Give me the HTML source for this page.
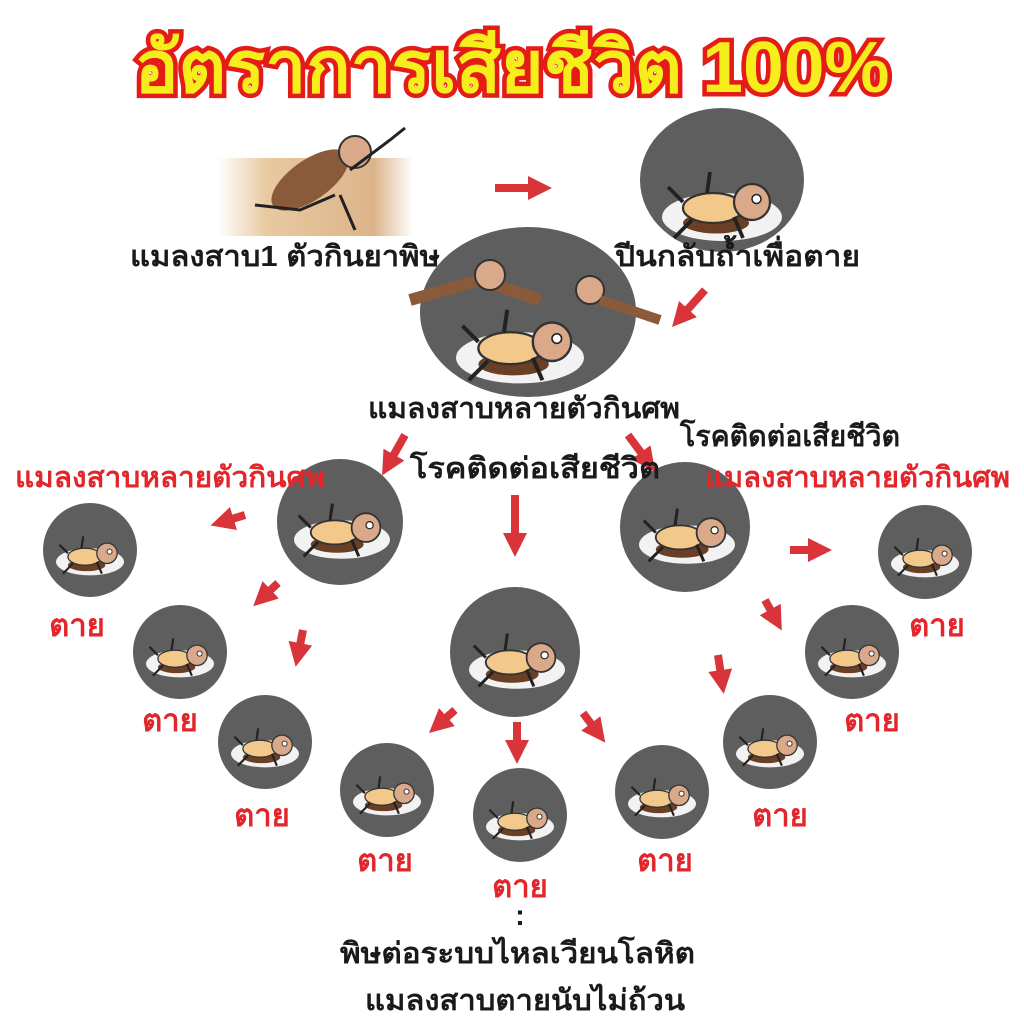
<!DOCTYPE html>
<html><head><meta charset="utf-8"><style>
html,body{margin:0;padding:0;background:#fff;}
body{width:1024px;height:1024px;overflow:hidden;position:relative;font-family:"Liberation Sans","DejaVu Sans",sans-serif;}
svg{position:absolute;left:0;top:0;}
text{font-family:"Liberation Sans","DejaVu Sans",sans-serif;font-weight:bold;}
</style></head><body>
<svg width="1024" height="1024" viewBox="0 0 1024 1024">
<defs>
<linearGradient id="wood" x1="0" x2="1"><stop offset="0" stop-color="#fff"/><stop offset="0.25" stop-color="#e8c9a0"/><stop offset="0.8" stop-color="#dcb48a"/><stop offset="1" stop-color="#fff"/></linearGradient>
<marker id="ah" viewBox="0 0 10 10" refX="5" refY="5" markerWidth="3" markerHeight="3" orient="auto"><path d="M0,0 L10,5 L0,10 z" fill="#d8343a"/></marker>
<g id="roach">
<ellipse cx="0" cy="8" rx="40" ry="16" fill="#f2f2f2"/>
<ellipse cx="-4" cy="12" rx="22" ry="7" fill="#6b3f26"/>
<ellipse cx="-6" cy="2" rx="20" ry="10" fill="#f2c98a" stroke="#333" stroke-width="1.5"/>
<circle cx="20" cy="-2" r="12" fill="#d9a98a" stroke="#333" stroke-width="1.5"/>
<circle cx="23" cy="-4" r="3" fill="#fff" stroke="#222"/>
<path d="M-26,-2 L-36,-12 M-10,-8 L-8,-22 M8,8 L14,22 M-20,10 L-32,22" stroke="#222" stroke-width="2.5"/>
</g>
</defs>
<text x="512" y="92" text-anchor="middle" font-size="72" fill="#f5ee1b" stroke="#e41b17" stroke-width="9" paint-order="stroke" textLength="755" lengthAdjust="spacingAndGlyphs">อัตราการเสียชีวิต 100%</text>
<rect x="218" y="158" width="195" height="78" fill="url(#wood)"/>
<ellipse cx="310" cy="180" rx="45" ry="20" fill="#8b5a3a" transform="rotate(-35 310 180)"/>
<circle cx="355" cy="152" r="16" fill="#d9a98a" stroke="#333" stroke-width="2"/>
<path d="M335,195 L300,210 L255,205 M350,170 L390,140 L405,128 M340,195 L355,230" stroke="#222" stroke-width="3" fill="none"/>
<ellipse cx="722" cy="180" rx="82" ry="72" fill="#5e5e5e"/>
<use href="#roach" transform="translate(722,205) scale(1.5)"/>
<ellipse cx="528" cy="312" rx="108" ry="85" fill="#5e5e5e"/>
<use href="#roach" transform="translate(520,345) scale(1.6)"/>
<path d="M410,300 L480,280 L540,300" stroke="#8b5a3a" stroke-width="12" fill="none"/>
<circle cx="490" cy="275" r="15" fill="#d9a98a" stroke="#333" stroke-width="2"/>
<circle cx="590" cy="290" r="14" fill="#d9a98a" stroke="#333" stroke-width="2"/>
<path d="M600,300 L660,320" stroke="#8b5a3a" stroke-width="10"/>
<g fill="#5e5e5e">
<circle cx="340" cy="522" r="63"/><circle cx="685" cy="527" r="65"/><circle cx="515" cy="652" r="65"/>
<circle cx="90" cy="550" r="47"/><circle cx="180" cy="652" r="47"/><circle cx="265" cy="742" r="47"/>
<circle cx="387" cy="790" r="47"/><circle cx="520" cy="815" r="47"/><circle cx="662" cy="792" r="47"/>
<circle cx="770" cy="742" r="47"/><circle cx="852" cy="652" r="47"/><circle cx="925" cy="552" r="47"/>
</g>
<use href="#roach" transform="translate(342,530) scale(1.2)"/>
<use href="#roach" transform="translate(687,535) scale(1.2)"/>
<use href="#roach" transform="translate(517,660) scale(1.2)"/>
<use href="#roach" transform="translate(90,555) scale(0.85)"/>
<use href="#roach" transform="translate(180,657) scale(0.85)"/>
<use href="#roach" transform="translate(265,747) scale(0.85)"/>
<use href="#roach" transform="translate(387,795) scale(0.85)"/>
<use href="#roach" transform="translate(520,820) scale(0.85)"/>
<use href="#roach" transform="translate(662,797) scale(0.85)"/>
<use href="#roach" transform="translate(770,747) scale(0.85)"/>
<use href="#roach" transform="translate(852,657) scale(0.85)"/>
<use href="#roach" transform="translate(925,557) scale(0.85)"/>
<g stroke="#d8343a" stroke-width="8" fill="none" marker-end="url(#ah)">
<line x1="495" y1="188" x2="540" y2="188"/>
<line x1="705" y1="290" x2="680" y2="318"/>
<line x1="405" y1="435" x2="388" y2="465"/>
<line x1="628" y1="435" x2="648" y2="462"/>
<line x1="515" y1="495" x2="515" y2="545"/>
<line x1="245" y1="515" x2="222" y2="522"/>
<line x1="278" y1="583" x2="262" y2="598"/>
<line x1="303" y1="630" x2="298" y2="655"/>
<line x1="455" y1="710" x2="438" y2="725"/>
<line x1="517" y1="722" x2="517" y2="752"/>
<line x1="583" y1="713" x2="598" y2="733"/>
<line x1="790" y1="550" x2="820" y2="550"/>
<line x1="765" y1="600" x2="776" y2="620"/>
<line x1="718" y1="655" x2="722" y2="682"/>
</g>
<g fill="#1a1a1a" font-size="29" lengthAdjust="spacingAndGlyphs">
<text x="130" y="266" textLength="310" lengthAdjust="spacingAndGlyphs">แมลงสาบ1 ตัวกินยาพิษ</text>
<text x="615" y="266" textLength="245" lengthAdjust="spacingAndGlyphs">ปีนกลับถ้ำเพื่อตาย</text>
<text x="368" y="418" textLength="312" lengthAdjust="spacingAndGlyphs">แมลงสาบหลายตัวกินศพ</text>
<text x="680" y="446" textLength="220" lengthAdjust="spacingAndGlyphs">โรคติดต่อเสียชีวิต</text>
<text x="410" y="478" textLength="250" lengthAdjust="spacingAndGlyphs">โรคติดต่อเสียชีวิต</text>
<text x="520" y="925" text-anchor="middle">:</text>
<text x="340" y="963" textLength="355" lengthAdjust="spacingAndGlyphs">พิษต่อระบบไหลเวียนโลหิต</text>
<text x="365" y="1010" textLength="320" lengthAdjust="spacingAndGlyphs">แมลงสาบตายนับไม่ถ้วน</text>
</g>
<g fill="#e3262b" font-size="29">
<text x="15" y="487" textLength="310" lengthAdjust="spacingAndGlyphs">แมลงสาบหลายตัวกินศพ</text>
<text x="705" y="487" textLength="305" lengthAdjust="spacingAndGlyphs">แมลงสาบหลายตัวกินศพ</text>
</g>
<g fill="#e3262b" font-size="31" text-anchor="middle">
<text x="77" y="636">ตาย</text><text x="170" y="731">ตาย</text><text x="262" y="826">ตาย</text>
<text x="385" y="871">ตาย</text><text x="520" y="897">ตาย</text><text x="665" y="871">ตาย</text>
<text x="780" y="826">ตาย</text><text x="872" y="731">ตาย</text><text x="937" y="636">ตาย</text>
</g>
</svg>
</body></html>
